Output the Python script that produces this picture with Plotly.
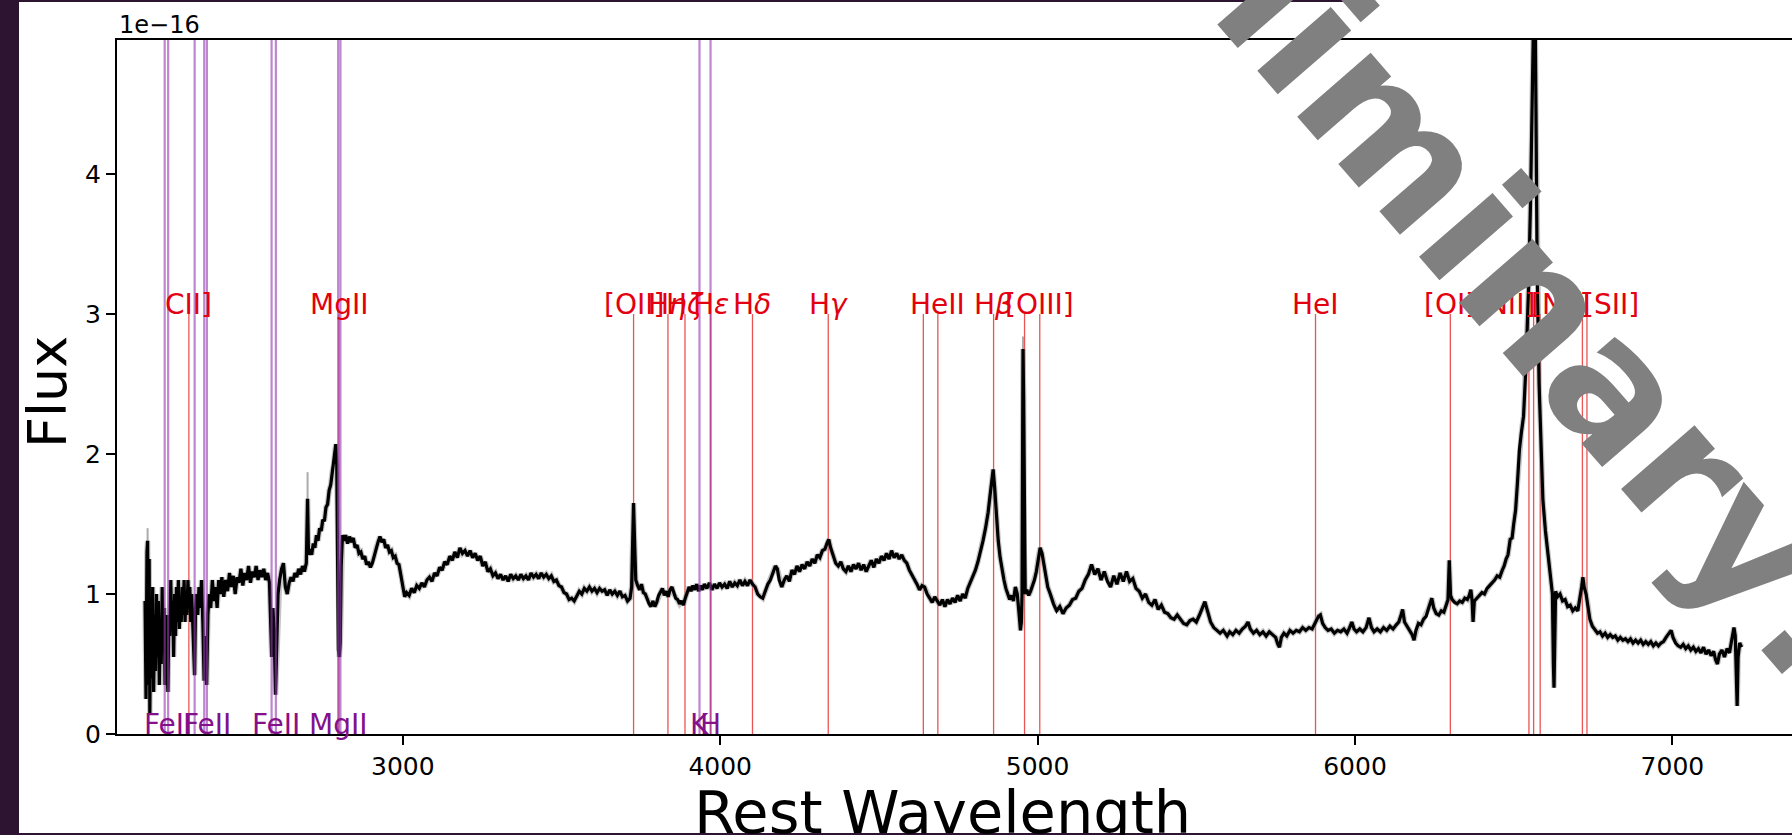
import plotly.graph_objects as go

# ---- spectrum, split by wavelength range (flux in units of 1e-16) ----
uv_wave = [2188, 2191, 2194, 2196, 2198, 2201, 2203, 2206, 2209, 2212, 2215, 2218, 2221, 2224, 2227, 2230,
           2233, 2236, 2239, 2242, 2245, 2248, 2251, 2254, 2257, 2260, 2263, 2266, 2269, 2272, 2275, 2278,
           2281, 2284, 2287, 2290, 2293, 2296, 2299, 2302, 2305, 2308, 2311, 2314, 2317, 2320, 2323, 2326,
           2329, 2332, 2335, 2338, 2341, 2344, 2347, 2350, 2354, 2358, 2362, 2366, 2370, 2374, 2378, 2382,
           2386, 2390, 2395, 2400, 2405, 2410, 2415, 2420]
uv_flux = [0.95, 0.25, 1.30, 1.38, 0.35, 1.25, 0.15, 0.90, 0.40, 1.05, 0.30, 0.85, 0.45, 1.00, 0.55, 0.95,
           0.35, 0.80, 0.50, 1.05, 0.60, 0.90, 0.35, 0.85, 0.50, 0.30, 0.85, 0.70, 1.10, 0.75, 0.95, 0.55,
           1.00, 0.70, 1.05, 0.80, 1.10, 0.75, 0.95, 0.80, 1.05, 0.85, 1.10, 0.80, 1.00, 0.85, 1.10, 0.90,
           1.05, 0.80, 1.00, 0.75, 0.55, 0.42, 0.90, 1.00, 0.85, 1.05, 0.90, 1.10, 0.80, 0.38, 0.70, 0.35,
           0.85, 1.00, 0.90, 1.10, 0.95, 1.05, 0.90, 1.10]

feii_wave = [2425, 2430, 2436, 2442, 2448, 2454, 2460, 2466, 2472, 2478, 2484, 2490, 2496, 2502, 2508, 2514,
             2520, 2526, 2532, 2538, 2544, 2550, 2556, 2562, 2568, 2574, 2580, 2584, 2587, 2591, 2595, 2599,
             2603, 2607, 2612, 2618, 2624, 2630, 2636, 2642, 2648, 2654, 2660, 2666, 2672, 2678, 2684, 2690,
             2696]
feii_flux = [1.00, 1.12, 0.98, 1.10, 1.02, 1.15, 1.05, 1.13, 1.00, 1.12, 1.08, 1.18, 1.06, 1.15, 1.10, 1.20,
             1.08, 1.16, 1.12, 1.20, 1.10, 1.17, 1.12, 1.18, 1.10, 1.15, 1.08, 0.75, 0.55, 0.90, 0.70, 0.28,
             0.60, 1.00, 1.10, 1.18, 1.22, 1.05, 1.00, 1.08, 1.12, 1.09, 1.15, 1.12, 1.18, 1.14, 1.20, 1.16,
             1.22]

mgii_wave = [2700, 2703, 2708, 2713, 2718, 2723, 2728, 2733, 2738, 2743, 2748, 2753, 2758, 2763, 2768, 2773,
             2778, 2782, 2786, 2789, 2792, 2795, 2797, 2800, 2803, 2806, 2810, 2814, 2820, 2826, 2832, 2838,
             2844, 2850, 2856, 2862, 2868, 2874, 2880, 2886, 2892, 2898, 2904, 2910, 2916, 2922, 2928, 2934,
             2940, 2946, 2952, 2958, 2964, 2970, 2976, 2982, 2988, 2994, 3000, 3006, 3012]
mgii_flux = [1.68, 1.28, 1.32, 1.28, 1.36, 1.33, 1.42, 1.38, 1.47, 1.45, 1.53, 1.52, 1.62, 1.64, 1.74, 1.78,
             1.88, 1.92, 2.02, 2.07, 1.92, 1.20, 0.60, 0.55, 0.65, 1.20, 1.42, 1.38, 1.42, 1.36, 1.41, 1.37,
             1.40, 1.33, 1.35, 1.29, 1.30, 1.25, 1.27, 1.21, 1.23, 1.19, 1.22, 1.27, 1.33, 1.37, 1.41, 1.37,
             1.39, 1.33, 1.35, 1.30, 1.31, 1.26, 1.27, 1.22, 1.21, 1.14, 1.06, 0.98, 1.01]

bump_wave = [3020, 3028, 3036, 3044, 3052, 3060, 3068, 3076, 3084, 3092, 3100, 3108, 3116, 3124, 3132, 3140,
             3148, 3156, 3164, 3172, 3180, 3188, 3196, 3204, 3212, 3220, 3228, 3236, 3244, 3252, 3260, 3268,
             3276, 3284, 3292, 3300]
bump_flux = [0.99, 1.04, 1.01, 1.06, 1.04, 1.08, 1.05, 1.10, 1.12, 1.09, 1.15, 1.13, 1.19, 1.17, 1.23, 1.21,
             1.27, 1.24, 1.30, 1.26, 1.33, 1.29, 1.31, 1.27, 1.31, 1.26, 1.29, 1.24, 1.27, 1.20, 1.23, 1.16,
             1.18, 1.13, 1.15, 1.11]

oii_wave = [3308, 3316, 3324, 3332, 3340, 3348, 3356, 3364, 3372, 3380, 3388, 3396, 3404, 3412, 3420, 3428,
            3436, 3444, 3452, 3460, 3468, 3476, 3484, 3492, 3500, 3508, 3516, 3524, 3532, 3540, 3548, 3556,
            3564, 3572, 3580, 3588, 3596, 3604, 3612, 3620, 3628, 3636, 3644, 3652, 3660, 3668, 3676, 3684,
            3692, 3700, 3708, 3716, 3721, 3724, 3727, 3730, 3734]
oii_flux = [1.14, 1.10, 1.13, 1.09, 1.14, 1.11, 1.13, 1.10, 1.14, 1.11, 1.13, 1.10, 1.15, 1.12, 1.14, 1.11,
            1.15, 1.12, 1.14, 1.11, 1.13, 1.09, 1.10, 1.06, 1.05, 1.01, 1.00, 0.96, 0.97, 0.95, 0.99, 1.02,
            1.00, 1.04, 1.02, 1.05, 1.02, 1.04, 1.01, 1.04, 1.02, 1.03, 0.99, 1.03, 1.00, 1.02, 0.99, 1.02,
            0.98, 0.99, 0.95, 0.97, 1.05, 1.30, 1.65, 1.40, 1.10]

balmer_wave = [3740, 3746, 3752, 3758, 3764, 3770, 3776, 3782, 3788, 3794, 3800, 3806, 3812, 3818, 3824, 3830,
               3836, 3842, 3848, 3854, 3860, 3866, 3872, 3878, 3884, 3890, 3896, 3902, 3908, 3914, 3920, 3926,
               3932, 3938, 3944, 3950, 3958, 3966, 3974, 3982, 3990, 3998, 4006, 4014, 4022, 4030, 4038, 4046,
               4054, 4062, 4070, 4078, 4086, 4094, 4102, 4110, 4118, 4126, 4134, 4142, 4150, 4158, 4166, 4174,
               4180, 4186, 4194, 4202]
balmer_flux = [1.06, 1.03, 1.07, 1.01, 1.00, 0.96, 0.93, 0.91, 0.95, 0.91, 0.94, 0.99, 1.01, 1.04, 0.99, 1.02,
               0.98, 1.03, 1.05, 1.00, 0.97, 0.96, 0.93, 0.95, 0.92, 0.97, 1.01, 1.05, 1.02, 1.06, 1.03, 1.07,
               1.02, 1.06, 1.03, 1.07, 1.04, 1.08, 1.03, 1.07, 1.04, 1.08, 1.05, 1.07, 1.04, 1.09, 1.05, 1.08,
               1.06, 1.10, 1.06, 1.09, 1.06, 1.10, 1.07, 1.05, 1.00, 0.98, 0.97, 1.02, 1.07, 1.10, 1.15, 1.20,
               1.18, 1.10, 1.05, 1.10]

hgamma_wave = [4210, 4218, 4226, 4234, 4242, 4250, 4258, 4266, 4274, 4282, 4290, 4298, 4306, 4314, 4322, 4330,
               4336, 4342, 4348, 4356, 4364, 4372, 4380, 4388, 4396, 4404, 4412, 4420, 4428, 4436, 4444, 4452,
               4460, 4468, 4476, 4484, 4492, 4500, 4508, 4516, 4524, 4532, 4540, 4548, 4556, 4564, 4572, 4580,
               4588, 4596, 4604, 4612, 4620]
hgamma_flux = [1.13, 1.09, 1.17, 1.14, 1.20, 1.16, 1.21, 1.18, 1.23, 1.20, 1.25, 1.22, 1.28, 1.26, 1.31, 1.32,
               1.36, 1.39, 1.33, 1.28, 1.22, 1.20, 1.23, 1.18, 1.16, 1.20, 1.16, 1.21, 1.18, 1.22, 1.17, 1.21,
               1.16, 1.20, 1.24, 1.19, 1.25, 1.22, 1.27, 1.24, 1.29, 1.25, 1.31, 1.26, 1.29, 1.25, 1.28, 1.24,
               1.22, 1.17, 1.14, 1.10, 1.07]

hbeta_wave = [4628, 4636, 4644, 4652, 4660, 4668, 4676, 4684, 4692, 4700, 4708, 4716, 4724, 4732, 4740, 4748,
              4756, 4764, 4772, 4780, 4788, 4796, 4804, 4812, 4820, 4828, 4836, 4844, 4850, 4855, 4860, 4865,
              4870, 4876, 4882, 4888, 4894, 4900, 4906, 4912, 4918, 4924, 4930, 4936, 4942, 4946, 4949, 4951,
              4953, 4954, 4956, 4958, 4961, 4966, 4972, 4978, 4984, 4990, 4996, 5002, 5008, 5014, 5020, 5026,
              5032]
hbeta_flux = [1.03, 1.06, 1.05, 1.00, 0.97, 0.94, 0.98, 0.95, 0.92, 0.96, 0.91, 0.96, 0.93, 0.97, 0.94, 0.99,
              0.95, 1.00, 0.97, 1.04, 1.08, 1.12, 1.17, 1.23, 1.30, 1.38, 1.47, 1.58, 1.70, 1.80, 1.89, 1.75,
              1.55, 1.38, 1.26, 1.17, 1.10, 1.04, 1.00, 0.96, 0.99, 0.95, 1.05, 1.00, 0.85, 0.74, 0.80, 1.00,
              2.20, 2.75, 2.40, 1.30, 1.00, 1.03, 0.99, 1.02, 1.06, 1.10, 1.16, 1.26, 1.33, 1.29, 1.20, 1.12,
              1.05]

green_wave = [5040, 5050, 5060, 5070, 5080, 5090, 5100, 5110, 5120, 5130, 5140, 5150, 5160, 5170, 5180, 5190,
              5200, 5210, 5220, 5230, 5240, 5250, 5260, 5270, 5280, 5290, 5300, 5310, 5320, 5330, 5340, 5350,
              5360, 5370, 5380, 5390, 5400, 5410, 5420, 5430, 5440, 5450, 5460, 5470, 5480, 5490, 5500, 5510,
              5518, 5527, 5535, 5545, 5555]
green_flux = [1.00, 0.93, 0.88, 0.91, 0.86, 0.90, 0.92, 0.96, 0.97, 1.02, 1.04, 1.10, 1.14, 1.21, 1.14, 1.18,
              1.10, 1.16, 1.09, 1.05, 1.13, 1.07, 1.15, 1.09, 1.16, 1.09, 1.11, 1.04, 1.02, 0.97, 1.00, 0.94,
              0.92, 0.96, 0.89, 0.92, 0.87, 0.86, 0.83, 0.82, 0.85, 0.82, 0.79, 0.78, 0.81, 0.82, 0.80, 0.85,
              0.90, 0.945, 0.88, 0.80, 0.76]

red_wave = [5565, 5575, 5585, 5597, 5605, 5615, 5625, 5635, 5645, 5655, 5663, 5670, 5680, 5690, 5700, 5710,
            5720, 5730, 5740, 5750, 5757, 5762, 5768, 5776, 5785, 5795, 5805, 5815, 5825, 5835, 5845, 5855,
            5865, 5875, 5885, 5891, 5898, 5906, 5915, 5925, 5935, 5945, 5955, 5965, 5975, 5983, 5990, 5997,
            6005, 6015, 6025, 6035, 6044, 6052, 6060, 6070, 6080, 6090, 6100, 6110, 6120, 6130, 6138, 6145,
            6150, 6156, 6164, 6172, 6180, 6186, 6192, 6200, 6208, 6216, 6224, 6232, 6238, 6242, 6248, 6256,
            6264, 6272, 6280, 6288, 6293, 6297, 6301, 6306, 6314, 6322, 6330, 6338, 6346, 6354, 6360, 6365,
            6369, 6372, 6376, 6384, 6392, 6400, 6408, 6416, 6424, 6432, 6440, 6448, 6456, 6464, 6470, 6476,
            6482, 6489, 6495, 6500]
red_flux = [0.74, 0.72, 0.74, 0.70, 0.73, 0.71, 0.74, 0.72, 0.75, 0.77, 0.80, 0.75, 0.72, 0.74, 0.71, 0.73,
            0.70, 0.73, 0.71, 0.69, 0.64, 0.62, 0.69, 0.72, 0.70, 0.74, 0.72, 0.74, 0.73, 0.76, 0.74, 0.76,
            0.75, 0.80, 0.84, 0.85, 0.79, 0.76, 0.74, 0.75, 0.72, 0.74, 0.73, 0.75, 0.72, 0.76, 0.80, 0.75,
            0.73, 0.75, 0.73, 0.76, 0.83, 0.76, 0.73, 0.75, 0.73, 0.76, 0.74, 0.77, 0.75, 0.78, 0.80, 0.85,
            0.89, 0.80, 0.77, 0.75, 0.71, 0.67, 0.74, 0.79, 0.78, 0.82, 0.84, 0.90, 0.95, 0.97, 0.90, 0.86,
            0.85, 0.88, 0.87, 0.92, 0.96, 1.24, 0.99, 0.96, 0.94, 0.93, 0.95, 0.94, 0.97, 0.96, 0.99, 1.03,
            0.95, 0.80, 0.95, 0.97, 0.99, 1.01, 1.00, 1.04, 1.06, 1.08, 1.10, 1.13, 1.12, 1.17, 1.20, 1.25,
            1.28, 1.39, 1.40, 1.50]

halpha_wave = [6506, 6512, 6518, 6524, 6531, 6538, 6543, 6547, 6553, 6558, 6562, 6566, 6570, 6574, 6580, 6586,
               6592, 6600, 6608, 6617, 6622, 6625, 6627, 6629, 6632, 6638, 6646, 6654, 6662, 6670, 6678, 6686,
               6694, 6702, 6708, 6714, 6718, 6722, 6728, 6734, 6740]
halpha_flux = [1.60, 1.80, 2.03, 2.15, 2.27, 2.60, 2.90, 3.20, 3.80, 4.60, 5.60, 5.60, 4.50, 3.30, 2.50, 2.10,
               1.67, 1.45, 1.27, 1.08, 1.00, 0.50, 0.33, 0.60, 1.02, 0.98, 1.00, 0.95, 0.96, 0.91, 0.92, 0.88,
               0.90, 0.88, 0.95, 1.05, 1.12, 1.05, 1.00, 0.92, 0.82]

tail_wave = [6748, 6756, 6764, 6772, 6780, 6788, 6796, 6804, 6812, 6820, 6828, 6836, 6844, 6852, 6860, 6868,
             6876, 6884, 6892, 6900, 6908, 6916, 6924, 6932, 6940, 6948, 6956, 6964, 6972, 6980, 6988, 6996,
             7002, 7010, 7018, 7026, 7034, 7042, 7050, 7058, 7066, 7074, 7082, 7090, 7098, 7106, 7114, 7122,
             7130, 7136, 7142, 7148, 7156, 7164, 7172, 7180, 7186, 7190, 7194, 7198, 7201, 7204, 7207, 7212,
             7218]
tail_flux = [0.77, 0.74, 0.72, 0.73, 0.70, 0.72, 0.69, 0.71, 0.69, 0.70, 0.67, 0.69, 0.67, 0.68, 0.66, 0.68,
             0.65, 0.67, 0.65, 0.67, 0.64, 0.66, 0.64, 0.66, 0.63, 0.65, 0.63, 0.65, 0.66, 0.69, 0.72, 0.74,
             0.69, 0.65, 0.63, 0.62, 0.64, 0.61, 0.63, 0.60, 0.62, 0.59, 0.61, 0.58, 0.62, 0.57, 0.60, 0.56,
             0.59, 0.53, 0.50, 0.57, 0.60, 0.55, 0.61, 0.58, 0.66, 0.72, 0.76, 0.70, 0.45, 0.20, 0.55, 0.65,
             0.62]

segments = [(uv_wave, uv_flux), (feii_wave, feii_flux), (mgii_wave, mgii_flux), (bump_wave, bump_flux),
            (oii_wave, oii_flux), (balmer_wave, balmer_flux), (hgamma_wave, hgamma_flux),
            (hbeta_wave, hbeta_flux), (green_wave, green_flux), (red_wave, red_flux),
            (halpha_wave, halpha_flux), (tail_wave, tail_flux)]
wavelength, flux = [], []
for w_seg, f_seg in segments:
    assert len(w_seg) == len(f_seg), (w_seg[0], len(w_seg), len(f_seg))
    wavelength += w_seg
    flux += f_seg

# unsmoothed pixels that stand above the smoothed curve
spike_wave = [2196, 2700, 4954]
spike_low = [1.30, 1.60, 2.60]
spike_high = [1.47, 1.87, 2.84]

# emission lines (red, marker up to 3e-16 with the name on top)
emission_wave = [2326.0, 2798.75, 3727.09, 3835.39, 3889.05, 3970.07, 4101.74, 4340.47,
                 4640.0, 4685.7, 4861.33, 4958.91, 5006.84, 5875.62, 6300.30,
                 6548.05, 6562.80, 6583.45, 6716.44, 6730.82]
emission_name = ["CII]", "MgII", "[OII]", "H<i>η</i>", "H<i>ζ</i>", "H<i>ε</i>", "H<i>δ</i>", "H<i>γ</i>",
                 "", "HeII", "H<i>β</i>", "", "[OIII]", "HeI", "[OI]",
                 "[NII]", "", "[NII]", "[SII]", ""]
emission_nudge = [0, 0, 0, 0, 0, 0, 0, 0,
                  0, 0, 0, 0, 0, 0, 0,
                  -23, 0, 20, 29, 0]
emission_top = 3.0

# absorption lines (purple, full height with the name at the bottom)
absorption_wave = [2249.88, 2260.78, 2344.21, 2374.46, 2382.77, 2586.65, 2600.17,
                   2796.35, 2803.53, 3934.78, 3969.59]
absorption_name = ["", "FeII", "", "", "FeII", "", "FeII", "MgII", "", "K", "H"]

x_ticks = [3000, 4000, 5000, 6000, 7000]
y_ticks = [0, 1, 2, 3, 4]
x_range = [2099.6, 7376.8]
y_range = [0, 4.957]

W, H = 1792, 835
AX_L, AX_T, AX_B = 117, 40, 734


def px(xp):
    return xp / W


def py(yp):
    return 1 - yp / H


FONT = "DejaVu Sans"
BAND = "#2d1532"

fig = go.Figure()

ex, ey = [], []
for w in emission_wave:
    ex += [w, w, None]
    ey += [0, emission_top, None]
fig.add_trace(go.Scatter(x=ex, y=ey, mode="lines",
                         line=dict(color="rgba(225,20,20,0.72)", width=1.3),
                         hoverinfo="skip", showlegend=False))

fig.add_trace(go.Scatter(x=wavelength, y=flux, mode="lines",
                         line=dict(color="rgba(150,150,150,0.55)", width=5.5),
                         hoverinfo="skip", showlegend=False))
sx, sy = [], []
for w, lo, hi in zip(spike_wave, spike_low, spike_high):
    sx += [w, w, None]
    sy += [lo, hi, None]
fig.add_trace(go.Scatter(x=sx, y=sy, mode="lines",
                         line=dict(color="rgba(150,150,150,0.8)", width=2),
                         hoverinfo="skip", showlegend=False))
fig.add_trace(go.Scatter(x=wavelength, y=flux, mode="lines",
                         line=dict(color="black", width=3.2),
                         hoverinfo="skip", showlegend=False))

shapes = []
for w in absorption_wave:
    shapes.append(dict(type="line", xref="x", yref="y domain", x0=w, x1=w, y0=0, y1=1,
                       line=dict(color="rgba(150,60,180,0.62)", width=2.2), layer="above"))
# frame of the slide around the chart
shapes += [
    dict(type="rect", xref="paper", yref="paper", x0=0, x1=px(19), y0=0, y1=1,
         fillcolor=BAND, line=dict(width=0), layer="above"),
    dict(type="rect", xref="paper", yref="paper", x0=0, x1=px(1348), y0=py(2), y1=1,
         fillcolor=BAND, line=dict(width=0), layer="above"),
    dict(type="rect", xref="paper", yref="paper", x0=0, x1=1, y0=0, y1=py(833),
         fillcolor=BAND, line=dict(width=0), layer="above"),
]

ann = []
for w, name, dx in zip(emission_wave, emission_name, emission_nudge):
    if name:
        ann.append(dict(x=w, y=emission_top, xref="x", yref="y", text=name,
                        showarrow=False, xanchor="center", yanchor="bottom", yshift=-9, xshift=dx,
                        font=dict(family=FONT, size=28, color="#e3000f")))
for w, name in zip(absorption_wave, absorption_name):
    if name:
        ann.append(dict(x=w, y=0, xref="x", yref="y", text=name,
                        showarrow=False, xanchor="center", yanchor="bottom", yshift=-9,
                        font=dict(family=FONT, size=28, color="#84108a")))

ann.append(dict(x=px(117), y=py(40), xref="paper", yref="paper", text="1e\u221216",
                showarrow=False, xanchor="left", yanchor="bottom", yshift=-1,
                font=dict(family=FONT, size=24, color="black")))
ann.append(dict(x=px(942), y=py(849), xref="paper", yref="paper", text="Rest Wavelength",
                showarrow=False, xanchor="center", yanchor="bottom",
                font=dict(family=FONT, size=59, color="black")))
ann.append(dict(x=px(47), y=py(392), xref="paper", yref="paper", text="Flux",
                showarrow=False, xanchor="center", yanchor="middle", textangle=-90,
                font=dict(family=FONT, size=54, color="black")))

# watermark across the chart
ann.append(dict(x=px(1438), y=py(184), xref="paper", yref="paper", text="Preliminary!",
                showarrow=False, xanchor="center", yanchor="middle", textangle=49,
                font=dict(family=FONT, size=178, color="#808080", weight="bold")))

fig.update_layout(
    width=W, height=H, autosize=False,
    margin=dict(l=0, r=0, t=0, b=0, pad=0, autoexpand=False),
    paper_bgcolor="white", plot_bgcolor="white",
    showlegend=False,
    annotations=ann,
    shapes=shapes,
    font=dict(family=FONT, color="black"),
)
fig.update_xaxes(domain=[px(AX_L), 1], range=x_range, tickvals=x_ticks,
                 ticktext=[str(v) for v in x_ticks], automargin=False,
                 showgrid=False, zeroline=False, showline=True, mirror=True,
                 linecolor="black", linewidth=2, ticks="outside", ticklen=9, tickwidth=1.6,
                 tickcolor="black", tickfont=dict(family=FONT, size=25, color="black"))
fig.update_yaxes(domain=[py(AX_B), py(AX_T)], range=y_range, tickvals=y_ticks,
                 ticktext=[str(v) for v in y_ticks], automargin=False,
                 showgrid=False, zeroline=False, showline=True, mirror=False,
                 linecolor="black", linewidth=2, ticks="outside", ticklen=9, tickwidth=1.6,
                 tickcolor="black", tickfont=dict(family=FONT, size=25, color="black"))

fig.write_html("out.html")
